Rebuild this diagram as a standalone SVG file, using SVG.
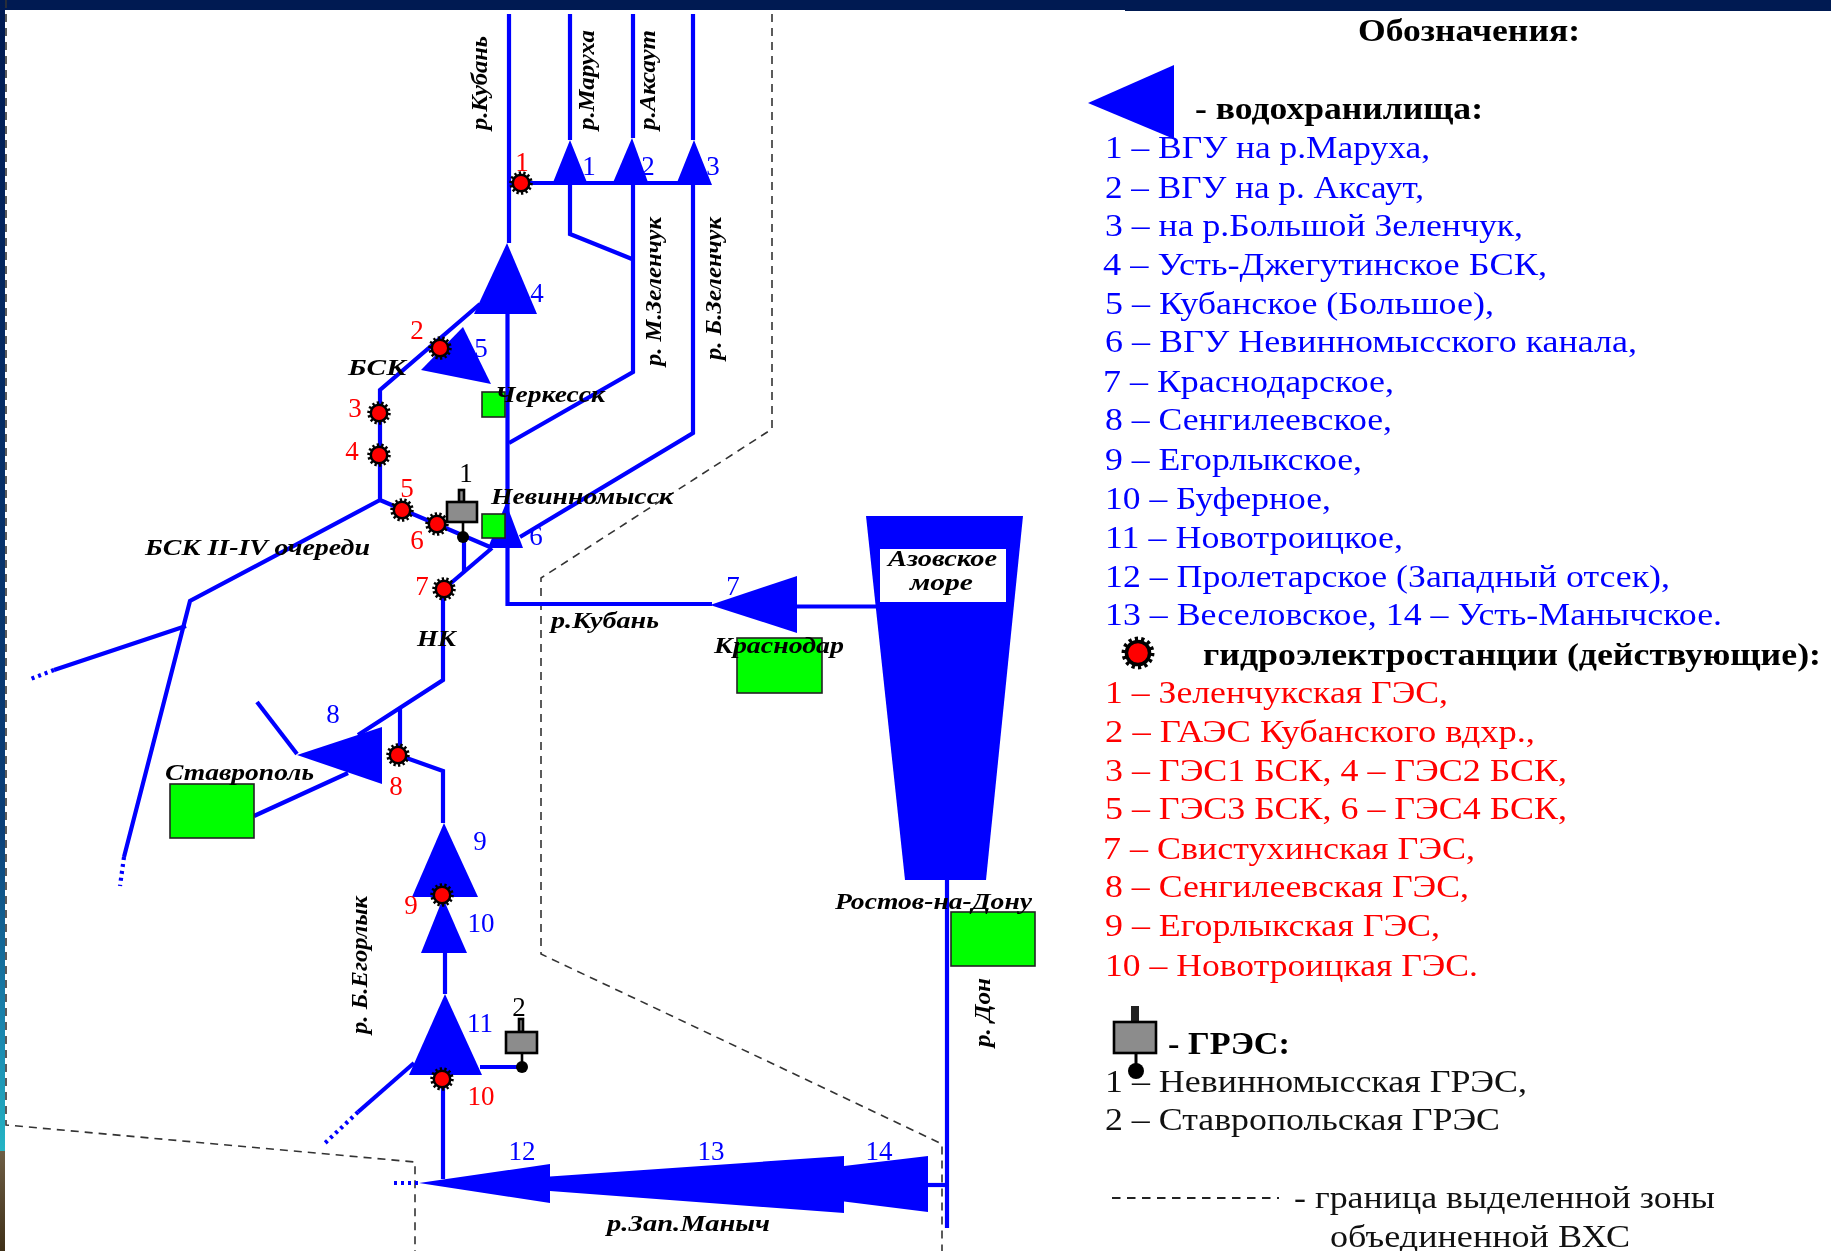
<svg xmlns="http://www.w3.org/2000/svg" width="1831" height="1251" viewBox="0 0 1831 1251">
<style>
.r{fill:none;stroke:#0000ff;stroke-width:4.2;stroke-linejoin:miter}
.d{fill:none;stroke:#0000ff;stroke-width:4.2;stroke-dasharray:3 4}
.b{fill:none;stroke:#333;stroke-width:1.6;stroke-dasharray:8 6}
.res{fill:#0000ff;stroke:none}
.city{fill:#00ff00;stroke:#222;stroke-width:1.6}
.gr{fill:#8c8c8c;stroke:#000;stroke-width:2.6}
text{font-family:"Liberation Serif","Times New Roman",serif}
.l{font-size:24px;font-style:italic;font-weight:bold;fill:#000}
.t{font-size:31px;fill:#0000ff}
.tr{font-size:31px;fill:#ff0000}
.tk{font-size:31px;fill:#111}
.h{font-size:31px;font-weight:bold;fill:#000}
.nb{font-size:27px;fill:#0000ff;text-anchor:middle}
.nr{font-size:27px;fill:#ff0000;text-anchor:middle}
.nk{font-size:27px;fill:#000;text-anchor:middle}
</style>
<defs>
<linearGradient id="strip1" x1="0" y1="0" x2="0" y2="1"><stop offset="0" stop-color="#001a52"/><stop offset="0.72" stop-color="#0a3f78"/><stop offset="0.9" stop-color="#1a88b0"/><stop offset="1" stop-color="#25b4c4"/></linearGradient>
<linearGradient id="strip2" x1="0" y1="0" x2="0" y2="1"><stop offset="0" stop-color="#6e5e45"/><stop offset="1" stop-color="#3f3018"/></linearGradient>
<filter id="soft" x="0" y="0" width="1831" height="1251" filterUnits="userSpaceOnUse" color-interpolation-filters="sRGB"><feGaussianBlur stdDeviation="0.5"/></filter>
<g id="hpp"><circle r="9.5" fill="#000" stroke="#000" stroke-width="4.5" stroke-dasharray="1 1" pathLength="28"/><circle r="7" fill="#ff0000"/></g>
</defs>
<rect width="1831" height="1251" fill="#fff"/>
<g filter="url(#soft)">
<g id="frame">
<rect x="0" y="0" width="1831" height="10" fill="#001a52"/>
<rect x="1125" y="10" width="706" height="1" fill="#001a52"/>
<rect x="0" y="0" width="5" height="1151" fill="url(#strip1)"/>
<rect x="0" y="1151" width="5" height="100" fill="url(#strip2)"/>
</g>
<g id="connectors">
<path class="b" d="M772 14V429L541 578V954L942 1144V1251"/>
<path class="b" d="M6 0V1125L415 1162V1251"/>
<path class="r" d="M509 14V243"/>
<path class="r" d="M570 14V140M633 14V138M693 14V140"/>
<path class="r" d="M509 183H693"/>
<path class="r" d="M570 183V234L632 259"/>
<path class="r" d="M633 183V372L509 443"/>
<path class="r" d="M693 183V433L520 537"/>
<path class="r" d="M507.500 314V604H712"/>
<path class="r" d="M797 606.500H880"/>
<path class="r" d="M480 304L380 390V500L490 547"/>
<path class="r" d="M380 500L190 601L124 857"/>
<path class="r" d="M186 626L54 670"/>
<path class="d" d="M54 670L28 680"/>
<path class="d" d="M124 857L120 886"/>
<path class="r" d="M464 540V571"/>
<path class="r" d="M444 589L492 548"/>
<path class="r" d="M443 589V680L358 735"/>
<path class="r" d="M400 708V755"/>
<path class="r" d="M398 755L443 771V823"/>
<path class="r" d="M257 702L297 754"/>
<path class="r" d="M254 816L348 773"/>
<path class="r" d="M445 953V994"/>
<path class="r" d="M414 1063L358 1112"/>
<path class="d" d="M358 1112L323 1145"/>
<path class="r" d="M443 1079V1179"/>
<path class="r" d="M480 1067H522"/>
<path class="d" d="M394 1183H419"/>
<path class="r" d="M928 1185H947"/>
<path class="r" d="M947 880V1228"/>
</g>
<g id="reservoir-1"><polygon class="res" points="570,140 552,185 588,185"/></g>
<g id="reservoir-2"><polygon class="res" points="632,138 612,185 649,185"/></g>
<g id="reservoir-3"><polygon class="res" points="694,140 676,185 712,185"/></g>
<g id="reservoir-4"><polygon class="res" points="507,243 474,314 537,314"/></g>
<g id="reservoir-5"><polygon class="res" points="463,327 421,370 491,384"/></g>
<g id="reservoir-6"><polygon class="res" points="506,503 488,548 523,548"/></g>
<g id="reservoir-7"><polygon class="res" points="710,605 797,576 797,633"/></g>
<g id="reservoir-8"><polygon class="res" points="297,755 382,727 382,784"/></g>
<g id="reservoir-9"><polygon class="res" points="444,823 412,897 478,897"/></g>
<g id="reservoir-10"><polygon class="res" points="443,898 421,953 467,953"/></g>
<g id="reservoir-11"><polygon class="res" points="445,994 409,1075 482,1075"/></g>
<g id="reservoir-12-14"><polygon class="res" points="419,1183 550,1164 550,1176.500 844,1156 844,1166 928,1156 928,1212 844,1201.500 844,1213 550,1191 550,1203"/></g>
<g id="azov-sea"><polygon class="res" points="866,516 1023,516 986,880 905,880"/><rect x="880" y="549" width="126" height="53" fill="#fff"/>
<text class="l" x="888" y="566" textLength="109" lengthAdjust="spacingAndGlyphs">Азовское</text>
<text class="l" x="910" y="590" textLength="63" lengthAdjust="spacingAndGlyphs">море</text></g>
<g id="city-cherkessk"><rect class="city" x="482" y="392" width="23" height="25"/></g>
<g id="city-nevinnomyssk"><rect class="city" x="482" y="514" width="23" height="24"/></g>
<g id="city-krasnodar"><rect class="city" x="737" y="638" width="85" height="55"/></g>
<g id="city-stavropol"><rect class="city" x="170" y="784" width="84" height="54"/></g>
<g id="city-rostov"><rect class="city" x="951" y="912" width="84" height="54"/></g>
<g id="tpp-1"><rect class="gr" x="459" y="490" width="5" height="12"/><rect class="gr" x="447" y="502" width="30" height="20"/><path d="M463 522V537" stroke="#000" stroke-width="2.600"/><circle cx="463" cy="537" r="6" fill="#000"/><text class="nk" x="466" y="482">1</text></g>
<g id="tpp-2"><rect class="gr" x="519" y="1019" width="4" height="13"/><rect class="gr" x="506" y="1032" width="31" height="21"/><path d="M522 1053V1067" stroke="#000" stroke-width="2.600"/><circle cx="522" cy="1067" r="6" fill="#000"/><text class="nk" x="519" y="1016">2</text></g>
<g id="hpp-1"><use href="#hpp" x="521" y="183"/><text class="nr" x="522" y="171">1</text></g>
<g id="hpp-2"><use href="#hpp" x="440" y="348"/><text class="nr" x="417" y="339">2</text></g>
<g id="hpp-3"><use href="#hpp" x="379" y="413"/><text class="nr" x="355" y="417">3</text></g>
<g id="hpp-4"><use href="#hpp" x="379" y="455"/><text class="nr" x="352" y="460">4</text></g>
<g id="hpp-5"><use href="#hpp" x="402" y="510"/><text class="nr" x="407" y="497">5</text></g>
<g id="hpp-6"><use href="#hpp" x="437" y="524"/><text class="nr" x="417" y="549">6</text></g>
<g id="hpp-7"><use href="#hpp" x="444" y="589"/><text class="nr" x="422" y="595">7</text></g>
<g id="hpp-8"><use href="#hpp" x="398" y="755"/><text class="nr" x="396" y="795">8</text></g>
<g id="hpp-9"><use href="#hpp" x="442" y="895"/><text class="nr" x="411" y="914">9</text></g>
<g id="hpp-10"><use href="#hpp" x="442" y="1079"/><text class="nr" x="481" y="1105">10</text></g>
<g id="reservoir-labels">
<text class="nb" x="589" y="175">1</text><text class="nb" x="648" y="175">2</text><text class="nb" x="713" y="175">3</text>
<text class="nb" x="537" y="302">4</text><text class="nb" x="481" y="357">5</text><text class="nb" x="536" y="545">6</text>
<text class="nb" x="733" y="595">7</text><text class="nb" x="333" y="723">8</text><text class="nb" x="480" y="850">9</text>
<text class="nb" x="481" y="932">10</text><text class="nb" x="480" y="1032">11</text>
<text class="nb" x="522" y="1160">12</text><text class="nb" x="711" y="1160">13</text><text class="nb" x="879" y="1160">14</text>
</g>
<g id="labels">
<text class="l" transform="translate(487,130) rotate(-90)" textLength="94" lengthAdjust="spacingAndGlyphs">р.Кубань</text>
<text class="l" transform="translate(594,130) rotate(-90)" textLength="100" lengthAdjust="spacingAndGlyphs">р.Маруха</text>
<text class="l" transform="translate(655,130) rotate(-90)" textLength="100" lengthAdjust="spacingAndGlyphs">р.Аксаут</text>
<text class="l" transform="translate(661,366) rotate(-90)" textLength="149" lengthAdjust="spacingAndGlyphs">р. М.Зеленчук</text>
<text class="l" transform="translate(721,360) rotate(-90)" textLength="143" lengthAdjust="spacingAndGlyphs">р. Б.Зеленчук</text>
<text class="l" transform="translate(367,1034) rotate(-90)" textLength="138" lengthAdjust="spacingAndGlyphs">р. Б.Егорлык</text>
<text class="l" transform="translate(990,1047) rotate(-90)" textLength="69" lengthAdjust="spacingAndGlyphs">р. Дон</text>
<text class="l" x="348" y="375" textLength="58" lengthAdjust="spacingAndGlyphs">БСК</text>
<text class="l" x="495" y="402" textLength="110" lengthAdjust="spacingAndGlyphs">Черкесск</text>
<text class="l" x="491" y="504" textLength="182" lengthAdjust="spacingAndGlyphs">Невинномысск</text>
<text class="l" x="145" y="555" textLength="225" lengthAdjust="spacingAndGlyphs">БСК II-IV очереди</text>
<text class="l" x="551" y="628" textLength="108" lengthAdjust="spacingAndGlyphs">р.Кубань</text>
<text class="l" x="417" y="646" textLength="39" lengthAdjust="spacingAndGlyphs">НК</text>
<text class="l" x="714" y="653" textLength="130" lengthAdjust="spacingAndGlyphs">Краснодар</text>
<text class="l" x="165" y="780" textLength="149" lengthAdjust="spacingAndGlyphs">Ставрополь</text>
<text class="l" x="835" y="909" textLength="197" lengthAdjust="spacingAndGlyphs">Ростов-на-Дону</text>
<text class="l" x="607" y="1231" textLength="163" lengthAdjust="spacingAndGlyphs">р.Зап.Маныч</text>
</g>
<g id="legend" transform="translate(1,1)">
<text class="h" x="1357" y="40" textLength="222" lengthAdjust="spacingAndGlyphs">Обозначения:</text>
<polygon class="res" points="1087,102 1173,64 1173,138"/>
<text class="h" x="1194" y="118" textLength="288" lengthAdjust="spacingAndGlyphs">- водохранилища:</text>
<text class="t" x="1104" y="157" textLength="325" lengthAdjust="spacingAndGlyphs">1 – ВГУ на р.Маруха,</text>
<text class="t" x="1104" y="197" textLength="319" lengthAdjust="spacingAndGlyphs">2 – ВГУ на р. Аксаут,</text>
<text class="t" x="1104" y="235" textLength="418" lengthAdjust="spacingAndGlyphs">3 – на р.Большой Зеленчук,</text>
<text class="t" x="1102" y="274" textLength="444" lengthAdjust="spacingAndGlyphs">4 – Усть-Джегутинское БСК,</text>
<text class="t" x="1104" y="313" textLength="389" lengthAdjust="spacingAndGlyphs">5 – Кубанское (Большое),</text>
<text class="t" x="1104" y="351" textLength="532" lengthAdjust="spacingAndGlyphs">6 – ВГУ Невинномысского канала,</text>
<text class="t" x="1102" y="391" textLength="291" lengthAdjust="spacingAndGlyphs">7 – Краснодарское,</text>
<text class="t" x="1104" y="429" textLength="287" lengthAdjust="spacingAndGlyphs">8 – Сенгилеевское,</text>
<text class="t" x="1104" y="469" textLength="257" lengthAdjust="spacingAndGlyphs">9 – Егорлыкское,</text>
<text class="t" x="1104" y="508" textLength="226" lengthAdjust="spacingAndGlyphs">10 – Буферное,</text>
<text class="t" x="1104" y="547" textLength="298" lengthAdjust="spacingAndGlyphs">11 – Новотроицкое,</text>
<text class="t" x="1104" y="586" textLength="565" lengthAdjust="spacingAndGlyphs">12 – Пролетарское (Западный отсек),</text>
<text class="t" x="1104" y="624" textLength="617" lengthAdjust="spacingAndGlyphs">13 – Веселовское, 14 – Усть-Манычское.</text>
<g transform="translate(1137,652) scale(1.400)"><use href="#hpp"/></g>
<text class="h" x="1202" y="664" textLength="618" lengthAdjust="spacingAndGlyphs">гидроэлектростанции (действующие):</text>
<text class="tr" x="1104" y="702" textLength="343" lengthAdjust="spacingAndGlyphs">1 – Зеленчукская ГЭС,</text>
<text class="tr" x="1104" y="741" textLength="430" lengthAdjust="spacingAndGlyphs">2 – ГАЭС Кубанского вдхр.,</text>
<text class="tr" x="1104" y="780" textLength="462" lengthAdjust="spacingAndGlyphs">3 – ГЭС1 БСК, 4 – ГЭС2 БСК,</text>
<text class="tr" x="1104" y="818" textLength="462" lengthAdjust="spacingAndGlyphs">5 – ГЭС3 БСК, 6 – ГЭС4 БСК,</text>
<text class="tr" x="1102" y="858" textLength="372" lengthAdjust="spacingAndGlyphs">7 – Свистухинская ГЭС,</text>
<text class="tr" x="1104" y="896" textLength="364" lengthAdjust="spacingAndGlyphs">8 – Сенгилеевская ГЭС,</text>
<text class="tr" x="1104" y="935" textLength="335" lengthAdjust="spacingAndGlyphs">9 – Егорлыкская ГЭС,</text>
<text class="tr" x="1104" y="975" textLength="373" lengthAdjust="spacingAndGlyphs">10 – Новотроицкая ГЭС.</text>
<rect x="1130" y="1005" width="8" height="15" fill="#222"/>
<rect class="gr" x="1113" y="1021" width="42" height="31" stroke-width="3.500"/>
<path d="M1135 1052V1070" stroke="#000" stroke-width="3"/>
<circle cx="1135" cy="1070" r="8" fill="#000"/>
<text class="h" x="1167" y="1053" textLength="122" lengthAdjust="spacingAndGlyphs">- ГРЭС:</text>
<text class="tk" x="1104" y="1091" textLength="422" lengthAdjust="spacingAndGlyphs">1 – Невинномысская ГРЭС,</text>
<text class="tk" x="1104" y="1129" textLength="395" lengthAdjust="spacingAndGlyphs">2 – Ставропольская ГРЭС</text>
<path d="M1111 1197H1278" fill="none" stroke="#222" stroke-width="1.800" stroke-dasharray="8.500 6.500"/>
<text class="tk" x="1293" y="1207" textLength="421" lengthAdjust="spacingAndGlyphs">- граница выделенной зоны</text>
<text class="tk" x="1329" y="1246" textLength="300" lengthAdjust="spacingAndGlyphs">объединенной ВХС</text>
</g>
</g>
</svg>
